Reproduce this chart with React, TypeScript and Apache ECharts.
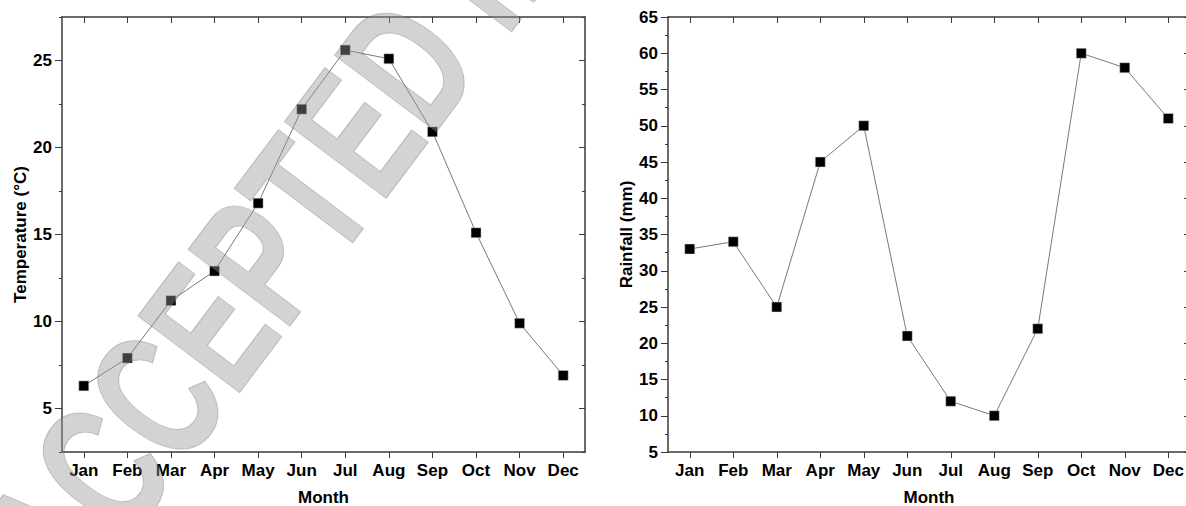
import React, { useEffect, useRef } from "react";
import * as echarts from "echarts";

const months = ["Jan", "Feb", "Mar", "Apr", "May", "Jun", "Jul", "Aug", "Sep", "Oct", "Nov", "Dec"];
const temperature = [6.3, 7.9, 11.2, 12.9, 16.8, 22.2, 25.6, 25.1, 20.9, 15.1, 9.9, 6.9];
const rainfall = [33, 34, 25, 45, 50, 21, 12, 10, 22, 60, 58, 51];
const tempMajorTicks = [5, 10, 15, 20, 25];
const tempTitle = "Temperature (°C)";
const rainTitle = "Rainfall (mm)";
const monthTitle = "Month";
const watermark = "ACCEPTED MANUSCRIPT";

const FONT = "'Liberation Sans', Arial, sans-serif";
const txt = { fontFamily: FONT, fontWeight: "bold" as const, fontSize: 17, color: "#000" };
const AX = "#3a3a3a";

function xAx(gridIndex: number, position: "top" | "bottom") {
  const bottom = position === "bottom";
  return {
    type: "category",
    data: months,
    gridIndex,
    position,
    boundaryGap: true,
    axisLine: { show: true, onZero: false, lineStyle: { color: AX, width: 1.5 } },
    axisTick: { show: true, alignWithLabel: true, interval: 0, inside: !bottom, length: 6, lineStyle: { color: AX, width: 1 } },
    axisLabel: { show: bottom, interval: 0, margin: 10, ...txt },
    splitLine: { show: false },
    name: bottom ? monthTitle : "",
    nameLocation: "middle",
    nameGap: 37,
    nameTextStyle: txt,
  };
}

export default function App() {
  const ref = useRef<HTMLDivElement>(null);
  useEffect(() => {
    if (!ref.current) return;
    const chart = echarts.init(ref.current, null, { renderer: "svg" });
    const tempScale = { min: 2.5, max: 27.5, interval: 2.5 };
    const rainScale = { min: 5, max: 65, interval: 5 };
    const rot = (53 * Math.PI) / 180;
    const option: any = {
      animation: false,
      backgroundColor: "#fff",
      grid: [
        { left: 62, top: 17, width: 523, height: 435, outerBoundsMode: "none", containLabel: false },
        { left: 668, top: 17, width: 522, height: 435, outerBoundsMode: "none", containLabel: false },
      ],
      xAxis: [xAx(0, "bottom"), xAx(0, "top"), xAx(1, "bottom"), xAx(1, "top")],
      yAxis: [
        {
          type: "value", gridIndex: 0, position: "left", ...tempScale,
          axisLine: { show: true, lineStyle: { color: AX, width: 1.5 } },
          axisTick: { show: true, length: 7, customValues: tempMajorTicks, lineStyle: { color: AX } },
          axisLabel: {
            margin: 10, ...txt, customValues: tempMajorTicks,
            formatter: (v: number) => (v % 5 === 0 ? String(v) : ""),
          },
          splitLine: { show: false },
          name: tempTitle, nameLocation: "middle", nameGap: 33, nameTextStyle: txt,
        },
        {
          type: "value", gridIndex: 0, position: "left", ...tempScale,
          axisLine: { show: false },
          axisTick: { show: true, length: 3, lineStyle: { color: AX } },
          axisLabel: { show: false },
          splitLine: { show: false },
        },
        {
          type: "value", gridIndex: 0, position: "right", ...tempScale,
          axisLine: { show: true, lineStyle: { color: AX, width: 1.5 } },
          axisTick: { show: true, inside: true, length: 6, customValues: tempMajorTicks, lineStyle: { color: AX } },
          axisLabel: { show: false },
          splitLine: { show: false },
        },
        {
          type: "value", gridIndex: 0, position: "right", ...tempScale,
          axisLine: { show: false },
          axisTick: { show: true, inside: true, length: 3, lineStyle: { color: AX } },
          axisLabel: { show: false },
          splitLine: { show: false },
        },
        {
          type: "value", gridIndex: 1, position: "left", ...rainScale,
          axisLine: { show: true, lineStyle: { color: AX, width: 1.5 } },
          axisTick: { show: true, length: 7, lineStyle: { color: AX } },
          minorTick: { show: true, splitNumber: 2, length: 3, lineStyle: { color: AX } },
          axisLabel: { margin: 10, ...txt, showMinLabel: true, showMaxLabel: true },
          splitLine: { show: false },
          name: rainTitle, nameLocation: "middle", nameGap: 33, nameTextStyle: txt,
        },
        {
          type: "value", gridIndex: 1, position: "right", ...rainScale,
          axisLine: { show: true, lineStyle: { color: AX, width: 1.5 } },
          axisTick: { show: true, inside: true, length: 6, lineStyle: { color: AX } },
          minorTick: { show: true, splitNumber: 2, length: 3, lineStyle: { color: AX } },
          axisLabel: { show: false },
          splitLine: { show: false },
        },
      ],
      series: [
        {
          type: "line", xAxisIndex: 0, yAxisIndex: 0, data: temperature,
          symbol: "rect", symbolSize: 10,
          itemStyle: { color: "#000", borderColor: "#ddd", borderWidth: 0.5 },
          lineStyle: { color: "#555", width: 0.8 },
        },
        {
          type: "line", xAxisIndex: 2, yAxisIndex: 4, data: rainfall,
          symbol: "rect", symbolSize: 10,
          itemStyle: { color: "#000", borderColor: "#ddd", borderWidth: 0.5 },
          lineStyle: { color: "#555", width: 0.8 },
        },
      ],
      graphic: [
        {
          type: "text",
          x: 20,
          y: 577,
          rotation: rot,
          scaleX: 0.676,
          scaleY: 1,
          z: 100,
          silent: true,
          style: {
            text: watermark,
            font: `bold 185px ${FONT}`,
            fill: "rgba(150,150,150,0.42)",
            stroke: "rgba(80,80,80,0.3)",
            lineWidth: 1.2,
            align: "left",
            verticalAlign: "middle",
            textAlign: "left",
            textVerticalAlign: "middle",
          },
        },
      ],
    };
    chart.setOption(option);
    return () => chart.dispose();
  }, []);
  return (
    <div
      ref={ref}
      style={{ position: "fixed", left: 0, top: 0, width: 1186, height: 506, background: "#fff" }}
    />
  );
}
